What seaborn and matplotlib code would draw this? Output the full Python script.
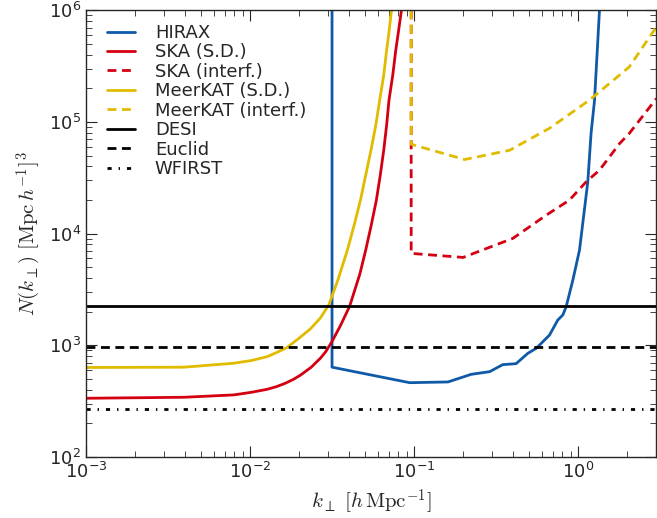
import numpy as np
import pandas as pd
import matplotlib
matplotlib.use("Agg")
import matplotlib.pyplot as plt
import seaborn as sns

# Values
hirax_k = [0.0316, 0.0316, 0.094, 0.161, 0.223, 0.289, 0.347, 0.419, 0.494, 0.556,
           0.670, 0.752, 0.807, 0.846, 0.929, 1.02, 1.146, 1.20, 1.259, 1.35]
hirax_n = [1e6, 636, 462, 469, 549, 580, 670, 684, 847, 939,
           1236, 1683, 1866, 2214, 3835, 7120, 29100, 79400, 155000, 1e6]

ska_sd_k = [0.001, 0.00395, 0.00796, 0.0102, 0.0127, 0.0145, 0.0163, 0.0183, 0.0203,
            0.0236, 0.0269, 0.0290, 0.0316, 0.0357, 0.0405, 0.0467, 0.0507, 0.0548,
            0.0589, 0.0622, 0.0653, 0.0680, 0.0703, 0.0741, 0.0773, 0.0805, 0.0837]
ska_sd_n = [335, 342, 359, 379, 403, 426, 455, 493, 540,
            636, 768, 880, 1080, 1517, 2244, 4345, 7110, 11900,
            19950, 33400, 55800, 93500, 156700, 262000, 438000, 662000, 1e6]

ska_int_k = [0.096, 0.096, 0.199, 0.400, 0.640, 0.885, 1.12, 1.35, 1.79, 2.05, 3.0]
ska_int_n = [1e6, 6650, 6120, 9060, 14650, 19950, 29100, 37000, 64100, 78900, 162000]

mk_sd_k = [0.001, 0.00395, 0.00796, 0.0102, 0.0127, 0.0145, 0.0168, 0.0198, 0.0233,
           0.0268, 0.0302, 0.0343, 0.0392, 0.0431, 0.0471, 0.0507, 0.0546, 0.0584,
           0.0617, 0.0653, 0.0680, 0.0705, 0.0728]
mk_sd_n = [632, 636, 690, 730, 790, 860, 955, 1150, 1400,
           1750, 2300, 3840, 7110, 11900, 19950, 33400, 55800, 93400,
           156700, 262000, 438000, 662000, 1e6]

mk_int_k = [0.096, 0.096, 0.203, 0.382, 0.670, 1.17, 2.05, 3.0]
mk_int_n = [1e6, 63200, 46100, 55800, 87900, 156700, 311000, 709000]

survey_names = ["DESI", "Euclid", "WFIRST"]
survey_n = [2260, 964, 267]

sns.set_style("ticks")
plt.rcParams.update({
    "font.family": ["DejaVu Sans"],
    "mathtext.fontset": "cm",
    "xtick.direction": "in",
    "ytick.direction": "in",
    "xtick.top": True,
    "ytick.right": True,
    "xtick.major.size": 8,
    "ytick.major.size": 8,
    "xtick.minor.size": 4,
    "ytick.minor.size": 4,
    "xtick.labelsize": 13,
    "ytick.labelsize": 13,
    "axes.linewidth": 1.0,
})

blue = "#0f5aa8"
red = "#d40012"
yellow = "#e0bb00"
dashed = (0, (3.2, 2.0))
dashdot = (0, (1.5, 2.5, 0.5, 2.5))

fig = plt.figure(figsize=(6.57, 5.18), dpi=100)
ax = fig.add_axes([0.131, 0.118, 0.868, 0.862])

series = [
    ("HIRAX", hirax_k, hirax_n, blue, "-"),
    ("SKA (S.D.)", ska_sd_k, ska_sd_n, red, "-"),
    ("SKA (interf.)", ska_int_k, ska_int_n, red, dashed),
    ("MeerKAT (S.D.)", mk_sd_k, mk_sd_n, yellow, "-"),
    ("MeerKAT (interf.)", mk_int_k, mk_int_n, yellow, dashed),
]
for name, k, n, col, ls in series:
    df = pd.DataFrame({"k": k, "N": n})
    sns.lineplot(data=df, x="k", y="N", sort=False, estimator=None, ax=ax,
                 color=col, linestyle=ls, lw=2, label=name)

for name, n, ls in zip(survey_names, survey_n, ["-", dashed, dashdot]):
    ax.axhline(n, color="black", lw=2, linestyle=ls, label=name)

ax.set_xscale("log")
ax.set_yscale("log")
ax.set_xlim(1e-3, 3)
ax.set_ylim(1e2, 1e6)
ax.set_xlabel(r"$k_\perp\ [h\,{\rm Mpc}^{-1}]$", fontsize=15)
ax.set_ylabel(r"$N(k_\perp)\ [{\rm Mpc}\,h^{-1}]^3$", fontsize=15)
ax.legend(loc="upper left", bbox_to_anchor=(0.024, 0.986), borderaxespad=0,
          frameon=False, fontsize=13, handlelength=1.55, handletextpad=1.1,
          labelspacing=0.08)

fig.savefig("out.png", dpi=100)
